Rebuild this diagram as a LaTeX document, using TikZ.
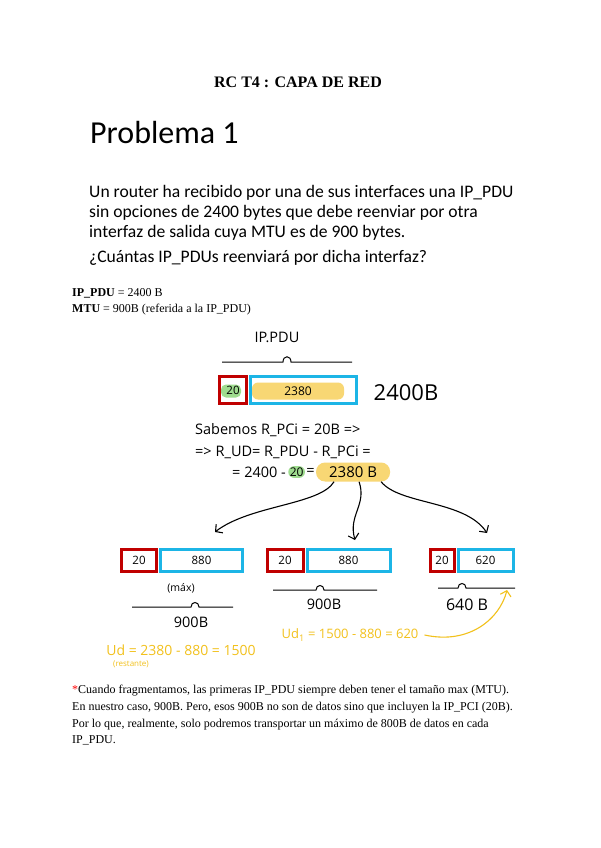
\documentclass[tikz,border=0pt]{standalone}
\usepackage{fontspec}
\setmainfont{Liberation Serif}
\newfontfamily\calibri{Carlito}
\newfontfamily\hand{Open Sans}
\usetikzlibrary{arrows.meta, calc, positioning}
\definecolor{pcired}{HTML}{C00000}
\definecolor{udblue}{HTML}{1CB5E6}
\definecolor{pillyellow}{HTML}{F8D774}
\definecolor{pillgreen}{HTML}{9FDC8F}
\definecolor{noteyellow}{HTML}{F2C11C}
\tikzset{
  pcibox/.style={draw=pcired, line width=3pt, inner sep=0pt, font=\hand\fontsize{11.5}{13}\selectfont},
  udbox/.style={draw=udblue, line width=3pt, inner sep=0pt, font=\hand\fontsize{11.5}{13}\selectfont},
  hlpill/.style={rounded corners=6pt, inner sep=1.5pt, font=\hand\fontsize{12}{14}\selectfont},
  handtxt/.style={inner sep=0pt, font=\hand\fontsize{14.5}{16}\selectfont},
  notetxt/.style={inner sep=0pt, text=noteyellow, font=\hand\fontsize{13}{15}\selectfont},
  slidetxt/.style={anchor=base west, inner sep=0pt, font=\calibri\fontsize{17.6}{22}\selectfont},
  bodytxt/.style={anchor=base west, inner sep=0pt, font=\fontsize{12}{14}\selectfont},
  bracestroke/.style={line width=1pt},
  pdu arrow/.style={line width=1.1pt, -{Straight Barb[length=5pt,width=11pt]}},
  note arrow/.style={line width=1.1pt, draw=noteyellow, -{Straight Barb[length=5pt,width=11pt]}},
}

\begin{document}
\begin{tikzpicture}[x=1pt, y=-1pt]
  % page
  \fill[white] (0,0) rectangle (600,848);
  \useasboundingbox (0,0) rectangle (600,848);

  % heading and statement
  \node[anchor=base, inner sep=0pt, font=\bfseries\fontsize{16}{19}\selectfont] (title) at (298,88) {RC T4 : CAPA DE RED};
  \node[slidetxt, font=\calibri\fontsize{32}{38}\selectfont] (prob) at (90,143) {Problema 1};
  \node[slidetxt] (st1) at (89,197) {Un router ha recibido por una de sus interfaces una IP\_PDU};
  \node[slidetxt] (st2) at (89,217) {sin opciones de 2400 bytes que debe reenviar por otra};
  \node[slidetxt] (st3) at (89,237) {interfaz de salida cuya MTU es de 900 bytes.};
  \node[slidetxt] (st4) at (89,262) {¿Cuántas IP\_PDUs reenviará por dicha interfaz?};

  % data
  \node[bodytxt] (dat1) at (72,296) {\textbf{IP\_PDU} = 2400 B};
  \node[bodytxt] (dat2) at (72,312) {\textbf{MTU} = 900B (referida a la IP\_PDU)};

  % original IP_PDU
  \node[handtxt] (pdulbl) at (277,337) {IP.PDU};
  \draw[bracestroke] (222,362) -- (283,362) .. controls (283,355) and (291,355) .. (291,362) -- (352,362);
  \node[fill=pillgreen, rounded corners=5pt, minimum width=20, minimum height=13] (g0) at (231,391) {};
  \node[pcibox, minimum width=27, minimum height=27] (pci0) at (233,390) {20};
  \node[udbox, minimum width=106, minimum height=27, right=1pt of pci0] (ud0) {};
  \node[hlpill, fill=pillyellow, minimum width=92, minimum height=17] (y0) at (298,391) {2380};
  \node[handtxt, font=\hand\fontsize{22}{24}\selectfont] (tot0) at (406,393) {2400B};

  % reasoning
  \node[handtxt, anchor=west] (why1) at (195,430) {Sabemos R\_PCi = 20B =>};
  \node[handtxt, anchor=west] (why2) at (195,452) {=> R\_UD= R\_PDU - R\_PCi =};
  \node[handtxt, anchor=west] (why3a) at (232,472) {= 2400 -};
  \node[hlpill, fill=pillgreen, right=2pt of why3a] (why3b) {20};
  \node[handtxt, right=1pt of why3b] (why3c) {=};
  \node[hlpill, fill=pillyellow, font=\hand\fontsize{15}{17}\selectfont, minimum width=74, minimum height=19, rounded corners=9pt, right=1pt of why3c] (res) {2380 B};

  % fragments
  \node[pcibox, minimum width=35, minimum height=22] (pci1) at (139,560) {20};
  \node[udbox, minimum width=82, minimum height=22, right=1pt of pci1] (ud1) {880};
  \node[pcibox, minimum width=36, minimum height=22] (pci2) at (285,560) {20};
  \node[udbox, minimum width=83, minimum height=22, right=1pt of pci2] (ud2) {880};
  \node[pcibox, minimum width=24, minimum height=22] (pci3) at (442,560) {20};
  \node[udbox, minimum width=55, minimum height=22, right=1pt of pci3] (ud3) {620};

  % arrows to the fragments
  \coordinate (tip1) at (215,532);
  \coordinate (tip2) at (355,540);
  \coordinate (tip3) at (487,533);
  \draw[pdu arrow] ([xshift=-19pt]res.south) .. controls (320,505) and (250,505) .. (tip1);
  \draw[pdu arrow] ([xshift=6pt]res.south) .. controls (367,505) and (348,515) .. (tip2);
  \draw[pdu arrow] ([xshift=28pt]res.south) .. controls (400,505) and (465,500) .. (tip3);

  % sizes
  \node[handtxt, font=\hand\fontsize{10.5}{12}\selectfont] (max1) at (181,588) {(máx)};
  \draw[bracestroke] (132,607) -- (191,607) .. controls (191,601) and (199,601) .. (199,607) -- (233,607);
  \node[handtxt] (len1) at (191,622) {900B};
  \draw[bracestroke] (273,590) -- (316,590) .. controls (316,584) and (324,584) .. (324,590) -- (377,590);
  \node[handtxt] (len2) at (324,604) {900B};
  \draw[bracestroke] (438,588) -- (458,588) .. controls (458,582) and (466,582) .. (466,588) -- (515,588);
  \node[handtxt, font=\hand\fontsize{16}{18}\selectfont] (len3) at (467,605) {640 B};

  % remaining data
  \coordinate (tip4) at (507,590);
  \node[notetxt] (ud1calc) at (350,635) {Ud\textsubscript{1} = 1500 - 880 = 620};
  \draw[note arrow] ([xshift=6pt]ud1calc.east) .. controls (470,645) and (500,618) .. (tip4);
  \node[notetxt, font=\hand\fontsize{14}{16}\selectfont] (udcalc) at (181,650) {Ud = 2380 - 880 = 1500};
  \node[notetxt, font=\hand\fontsize{8}{9}\selectfont] (rest) at (131,664) {(restante)};

  % note
  \node[bodytxt] (nt1) at (72,693) {\textcolor{red}{*}Cuando fragmentamos, las primeras IP\_PDU siempre deben tener el tamaño max (MTU).};
  \node[bodytxt] (nt2) at (72,710) {En nuestro caso, 900B. Pero, esos 900B no son de datos sino que incluyen la IP\_PCI (20B).};
  \node[bodytxt] (nt3) at (72,727) {Por lo que, realmente, solo podremos transportar un máximo de 800B de datos en cada};
  \node[bodytxt] (nt4) at (72,743) {IP\_PDU.};
\end{tikzpicture}
\end{document}
